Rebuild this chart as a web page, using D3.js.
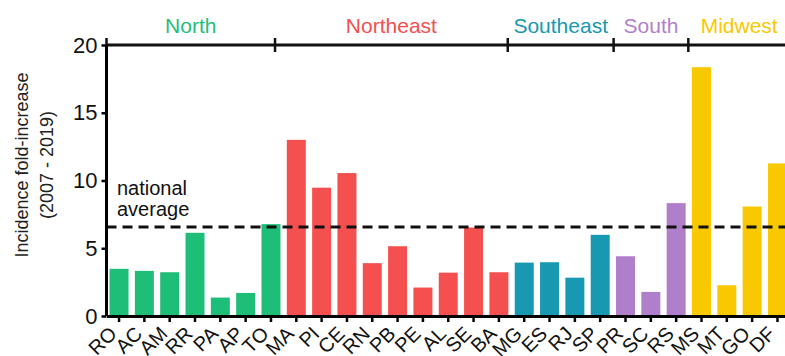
<!DOCTYPE html>
<html>
<head>
<meta charset="utf-8">
<script src="https://cdn.jsdelivr.net/npm/d3@7"></script>
<style>
  body { margin: 0; background: white; }
  text { font-family: "Liberation Sans", Arial, sans-serif; }
</style>
</head>
<body>
<script>
// States in plot order and their incidence fold-increase (2007 - 2019)
const states = ["RO", "AC", "AM", "RR", "PA", "AP", "TO",
                "MA", "PI", "CE", "RN", "PB", "PE", "AL", "SE", "BA",
                "MG", "ES", "RJ", "SP",
                "PR", "SC", "RS",
                "MS", "MT", "GO", "DF"];
const foldIncrease = [3.48, 3.33, 3.23, 6.14, 1.36, 1.70, 6.78,
                      13.0, 9.47, 10.55, 3.90, 5.15, 2.10, 3.20, 6.53, 3.23,
                      3.94, 3.97, 2.83, 5.99,
                      4.41, 1.78, 8.33,
                      18.36, 2.27, 8.08, 11.26];
const stateRegion = ["North", "North", "North", "North", "North", "North", "North",
                     "Northeast", "Northeast", "Northeast", "Northeast", "Northeast",
                     "Northeast", "Northeast", "Northeast", "Northeast",
                     "Southeast", "Southeast", "Southeast", "Southeast",
                     "South", "South", "South",
                     "Midwest", "Midwest", "Midwest", "Midwest"];

// Regions, their colours and the top-axis break positions (in state-index units)
const regions = ["North", "Northeast", "Southeast", "South", "Midwest"];
const regionColors = ["#1fbe78", "#f4504f", "#1898b1", "#b07fcc", "#f8c800"];
const regionBreaks = [6.16, 15.35, 19.53, 22.48];

const nationalAverage = 6.56;
const yTicks = [0, 5, 10, 15, 20];

// Dimensions
let width = 785, height = 356;
let margin = { top: 45, bottom: 40, left: 106.5, right: -5 };

let svg = d3.select('body')
            .append('svg')
            .attr('width', width)
            .attr('height', height);

const data = states.map((s, i) => ({ state: s, value: foldIncrease[i], region: stateRegion[i] }));

// Scales
const xScale = d3.scaleBand()
    .domain(states)
    .range([margin.left, width - margin.right])
    .paddingInner(0.25)
    .paddingOuter(0.12);

const yScale = d3.scaleLinear()
    .domain([0, 20])
    .range([height - margin.bottom, margin.top]);

const color = d3.scaleOrdinal()
    .domain(regions)
    .range(regionColors);

// index scale for region breaks on top axis
const idx = d3.scaleLinear()
    .domain([0, states.length - 1])
    .range([xScale(states[0]) + xScale.bandwidth() / 2,
            xScale(states[states.length - 1]) + xScale.bandwidth() / 2]);

// Bars
svg.selectAll("rect.bar")
   .data(data)
   .enter()
   .append("rect")
   .attr("class", "bar")
   .attr("x", d => xScale(d.state))
   .attr("y", d => yScale(d.value))
   .attr("width", xScale.bandwidth())
   .attr("height", d => yScale(0) - yScale(d.value))
   .attr("fill", d => color(d.region));

// National average dashed line
svg.append("line")
   .attr("x1", margin.left)
   .attr("x2", width)
   .attr("y1", yScale(nationalAverage))
   .attr("y2", yScale(nationalAverage))
   .attr("stroke", "#111")
   .attr("stroke-width", 3)
   .attr("stroke-dasharray", "10,6");

svg.append("text")
   .attr("x", 117)
   .attr("y", yScale(nationalAverage) - 32)
   .attr("font-size", 20)
   .attr("fill", "#111")
   .text("national");
svg.append("text")
   .attr("x", 117)
   .attr("y", yScale(nationalAverage) - 11)
   .attr("font-size", 20)
   .attr("fill", "#111")
   .text("average");

// Y axis
const yAxis = svg.append("g")
   .attr("transform", `translate(${margin.left},0)`)
   .call(d3.axisLeft(yScale).tickValues(yTicks).tickSize(5).tickPadding(4));
yAxis.select(".domain").attr("stroke-width", 3).attr("d", `M0,${yScale(0)}V${yScale(20)}`);
yAxis.selectAll(".tick line").attr("stroke-width", 2.5);
yAxis.selectAll(".tick text")
     .attr("font-size", 22)
     .attr("fill", "#111")
     .style("font-family", "'Liberation Sans', Arial, sans-serif");

// X axis
const xAxis = svg.append("g")
   .attr("transform", `translate(0,${yScale(0)})`)
   .call(d3.axisBottom(xScale).tickSize(6).tickSizeOuter(0));
xAxis.select(".domain").attr("stroke-width", 3);
xAxis.selectAll(".tick line").attr("stroke-width", 2.5);
xAxis.selectAll(".tick text")
     .attr("font-size", 20)
     .attr("fill", "#111")
     .style("font-family", "'Liberation Sans', Arial, sans-serif")
     .attr("text-anchor", "end")
     .attr("dy", null)
     .attr("y", 0)
     .attr("transform", "translate(-1,19) rotate(-45)");

// Top region axis
const topY = yScale(20);
svg.append("line")
   .attr("x1", margin.left)
   .attr("x2", width)
   .attr("y1", topY)
   .attr("y2", topY)
   .attr("stroke", "#111")
   .attr("stroke-width", 3);

svg.selectAll("line.break")
   .data(regionBreaks)
   .enter()
   .append("line")
   .attr("class", "break")
   .attr("x1", d => idx(d))
   .attr("x2", d => idx(d))
   .attr("y1", topY - 7)
   .attr("y2", topY + 7)
   .attr("stroke", "#111")
   .attr("stroke-width", 2.5);

// short tick above y axis top
svg.append("line")
   .attr("x1", margin.left)
   .attr("x2", margin.left)
   .attr("y1", topY - 7)
   .attr("y2", topY)
   .attr("stroke", "#111")
   .attr("stroke-width", 2.5);

const edges = [margin.left, ...regionBreaks.map(b => idx(b)), xScale.range()[1]];
regions.forEach((r, i) => {
    svg.append("text")
       .attr("x", (edges[i] + edges[i + 1]) / 2)
       .attr("y", 33)
       .attr("text-anchor", "middle")
       .attr("font-size", 21)
       .attr("fill", color(r))
       .text(r);
});

// Y label
svg.append("text")
   .attr("transform", `translate(28,165) rotate(-90)`)
   .attr("text-anchor", "middle")
   .attr("font-size", 18)
   .attr("fill", "#222")
   .text("Incidence fold-increase");
svg.append("text")
   .attr("transform", `translate(53,165) rotate(-90)`)
   .attr("text-anchor", "middle")
   .attr("font-size", 18)
   .attr("fill", "#222")
   .text("(2007 - 2019)");
</script>
</body>
</html>
